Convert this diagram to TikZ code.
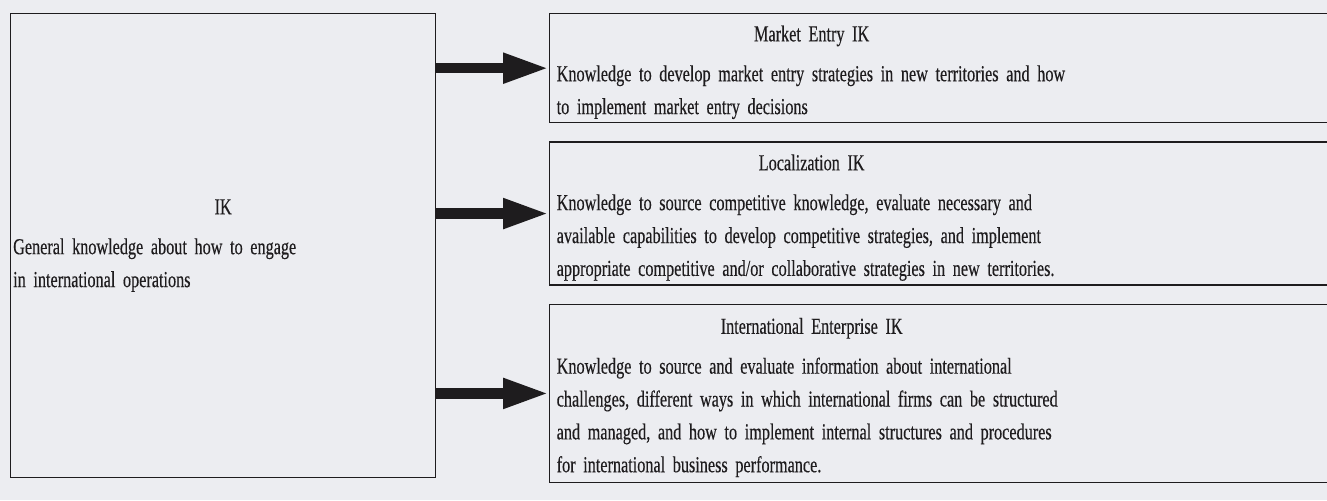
\documentclass[tikz,border=0pt]{standalone}
\usepackage{fontspec}
\setmainfont{Liberation Serif}[FakeStretch=0.71, FakeBold=0.3]
\usepackage{xcolor}
\usetikzlibrary{arrows.meta, positioning}
\definecolor{paper}{RGB}{236,237,241}
\definecolor{ink}{RGB}{30,28,30}

% heading centred over the text block of a box
\newcommand{\boxhead}[2]{\makebox[#1]{#2}}
% same, with a little more room above it
\newcommand{\kindhead}[1]{\rule{0pt}{0.48cm}\boxhead{10.2cm}{#1}}

\begin{document}
\begin{tikzpicture}[x=0.02cm, y=0.02cm,
    ikbox/.style={draw=ink, line width=0.8pt, rectangle, text=ink, align=left,
        font=\fontsize{13pt}{18.7pt}\selectfont},
    kindbox/.style={ikbox, inner xsep=0.14cm, inner ysep=0pt, text width=15.52cm},
    feed/.style={draw=ink, line width=6pt, -{Triangle[length=0.92cm, width=0.56cm]}}]
    \useasboundingbox (0,0) rectangle (1327,500);
    \fill[paper] (0,0) rectangle (1327,500);
    \clip (0,0) rectangle (1327,500);

    % general IK on the left
    \node[ikbox, anchor=north west, inner xsep=0.05cm, text width=8.4cm, minimum height=9.28cm] (ik) at (10,487) {
        \boxhead{8.4cm}{IK} \\[4pt]
        General knowledge about how to engage \\
        in international operations
    };

    % the three kinds of IK
    \node[kindbox, anchor=north west, minimum height=2.18cm] (entry) at (549,487) {
        \kindhead{Market Entry IK} \\[4pt]
        Knowledge to develop market entry strategies in new territories and how \\
        to implement market entry decisions
    };
    \node[kindbox, minimum height=2.86cm, below right=0.36cm and 0cm of entry.south west] (local) {
        \kindhead{Localization IK} \\[4pt]
        Knowledge to source competitive knowledge, evaluate necessary and \\
        available capabilities to develop competitive strategies, and implement \\
        appropriate competitive and/or collaborative strategies in new territories.
    };
    \node[kindbox, minimum height=3.56cm, below right=0.36cm and 0cm of local.south west] (enterprise) {
        \kindhead{International Enterprise IK} \\[4pt]
        Knowledge to source and evaluate information about international \\
        challenges, different ways in which international firms can be structured \\
        and managed, and how to implement internal structures and procedures \\
        for international business performance.
    };

    \draw[feed] (ik.east |- entry.west) -- (entry.west);
    \draw[feed] (ik.east |- local.west) -- (local.west);
    \draw[feed] (ik.east |- enterprise.west) -- (enterprise.west);
\end{tikzpicture}
\end{document}
